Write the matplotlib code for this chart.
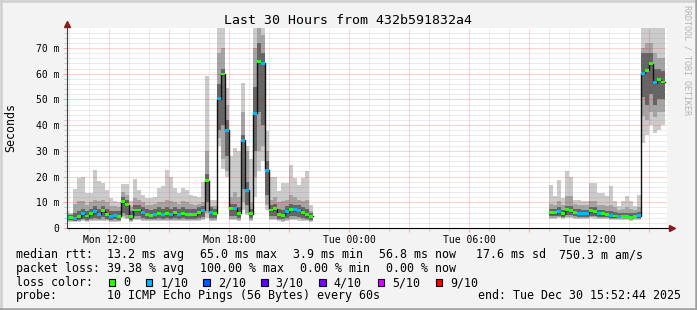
import numpy as np
import matplotlib.pyplot as plt
from matplotlib.patches import Rectangle
from matplotlib.lines import Line2D

plt.rcParams['font.family'] = 'DejaVu Sans Mono'

# rrd step is 12 minutes; times are hours since Mon 00:00
STEP = 0.2
seg_start = [9.8, 34.0]

# --- segment 1: Mon 09:48 .. Mon 22:12
med_a = [4.1, 4.0, 3.7, 4.4, 5.5, 4.7, 5.5, 6.3, 5.4, 6.7,
         5.4, 4.6, 4.8, 4.6, 10.2, 9.0, 4.4, 7.0, 7.0, 6.0,
         5.3, 5.0, 5.3, 5.8, 5.3, 5.6, 5.2, 6.0, 5.4, 5.6,
         5.4, 5.4, 5.2, 6.0, 6.9, 18.4, 6.1, 5.7, 50.3, 59.9,
         38.0, 7.5, 7.6, 5.7, 34.1, 14.6, 5.6, 44.7, 64.7, 64.0,
         22.4, 7.0, 7.5, 5.4, 4.9, 6.4, 7.3, 7.1, 6.9, 6.0,
         5.2, 4.5]
loss_a = [1, 0, 1, 0, 1, 0, 0, 1, 1, 0,
          0, 1, 1, 0, 0, 0, 0, 0, 0, 1,
          0, 0, 1, 0, 1, 0, 1, 0, 1, 0,
          0, 0, 0, 0, 1, 0, 1, 0, 1, 0,
          1, 0, 1, 0, 1, 1, 0, 1, 0, 1,
          1, 0, 0, 0, 0, 1, 0, 1, 1, 0,
          0, 0]
hi_a = [6.5, 6.0, 15.2, 19.5, 20.0, 13.6, 13.6, 22.7, 18.2, 17.5,
        14.9, 11.7, 10.5, 10.0, 17.1, 17.1, 10.4, 19.1, 14.9, 13.0,
        11.7, 11.7, 12.0, 15.6, 16.5, 22.7, 19.8, 15.5, 13.5, 15.5,
        14.9, 13.0, 12.3, 12.0, 18.0, 59.0, 11.0, 11.0, 77.8, 77.8,
        54.4, 28.0, 31.0, 30.0, 56.4, 32.0, 27.0, 77.8, 77.8, 77.8,
        37.6, 19.8, 19.8, 14.3, 17.5, 17.5, 24.6, 19.5, 16.9, 19.5,
        22.0, 9.1]
hi2_a = [5.5, 5.5, 9.5, 10.5, 10.5, 9.0, 10.0, 11.0, 10.5, 11.0,
         10.0, 8.5, 8.5, 8.0, 14.0, 13.0, 8.5, 11.5, 11.0, 10.0,
         9.0, 9.0, 9.5, 10.0, 10.0, 11.0, 10.5, 10.0, 9.5, 10.5,
         10.0, 9.5, 9.0, 9.5, 10.0, 30.0, 8.5, 8.5, 68.0, 70.0,
         48.0, 12.0, 14.0, 12.0, 45.0, 29.8, 10.0, 70.0, 77.8, 75.0,
         30.0, 11.0, 12.0, 10.0, 10.5, 11.0, 13.0, 12.0, 11.0, 10.5,
         11.0, 6.5]
hi3_a = [5.0, 5.0, 6.0, 6.5, 7.5, 6.5, 7.5, 8.5, 7.5, 8.5,
         7.5, 6.5, 6.5, 6.5, 12.0, 11.0, 6.5, 9.0, 9.0, 8.0,
         7.5, 7.0, 7.5, 8.0, 7.5, 8.0, 7.5, 8.0, 7.5, 8.0,
         7.5, 7.5, 7.5, 8.0, 8.5, 21.0, 8.0, 7.5, 56.0, 62.0,
         42.0, 9.5, 9.5, 8.0, 36.0, 18.0, 7.5, 55.0, 72.0, 68.0,
         26.0, 9.0, 9.5, 7.5, 7.0, 8.5, 9.5, 9.0, 9.0, 8.0,
         7.5, 6.0]
lo3_a = [3.2, 3.0, 2.9, 3.2, 3.6, 3.3, 3.6, 4.0, 3.6, 4.2,
         3.6, 3.3, 3.4, 3.3, 6.0, 5.0, 3.2, 4.5, 4.5, 4.0,
         3.6, 3.5, 3.6, 3.8, 3.6, 3.7, 3.5, 3.9, 3.6, 3.7,
         3.6, 3.6, 3.5, 3.9, 4.3, 10.0, 4.0, 3.8, 38.0, 40.0,
         28.0, 4.5, 4.5, 3.8, 15.0, 9.0, 3.7, 30.0, 45.0, 40.0,
         13.0, 4.5, 4.5, 3.6, 3.4, 4.0, 4.5, 4.5, 4.3, 3.9,
         3.5, 3.2]
lo2_a = [2.8, 2.7, 2.6, 2.8, 3.0, 2.8, 3.0, 3.2, 3.0, 3.3,
         3.0, 2.8, 2.9, 2.8, 4.5, 4.0, 2.8, 3.5, 3.5, 3.2,
         3.0, 3.0, 3.0, 3.2, 3.0, 3.1, 3.0, 3.2, 3.0, 3.1,
         3.0, 3.0, 3.0, 3.2, 3.4, 6.0, 3.2, 3.1, 35.0, 27.0,
         22.0, 3.6, 3.6, 3.1, 10.0, 6.0, 3.1, 20.0, 30.0, 32.0,
         9.0, 3.6, 3.6, 3.0, 2.9, 3.2, 3.6, 3.5, 3.4, 3.2,
         3.0, 2.8]
lo_a = [2.4, 2.3, 2.2, 2.4, 2.6, 2.4, 2.6, 2.8, 2.6, 2.9,
        2.6, 2.4, 2.5, 2.4, 3.8, 3.5, 2.4, 3.0, 3.0, 2.8,
        2.6, 2.6, 2.6, 2.8, 2.6, 2.7, 2.6, 2.8, 2.6, 2.7,
        2.6, 2.6, 2.6, 2.8, 3.0, 4.0, 2.8, 2.7, 32.0, 23.0,
        20.0, 3.1, 3.1, 2.7, 7.0, 5.0, 2.7, 12.0, 22.0, 26.0,
        7.0, 3.1, 3.1, 2.6, 2.5, 2.8, 3.1, 3.0, 2.9, 2.8,
        2.6, 2.4]

# --- segment 2: Tue 10:00 .. Tue 15:48
med_b = [5.9, 5.9, 6.3, 5.6, 7.1, 6.7, 6.1, 5.8, 5.7, 5.7,
         6.8, 6.3, 5.6, 5.6, 5.4, 4.8, 4.7, 4.5, 4.5, 4.5,
         4.2, 4.5, 4.8, 60.2, 61.3, 63.9, 56.5, 57.7, 56.8]
loss_b = [0, 0, 1, 0, 0, 0, 0, 1, 1, 1,
          0, 0, 1, 0, 0, 1, 0, 1, 0, 0,
          0, 0, 1, 1, 0, 0, 1, 0, 0]
hi_b = [16.8, 12.3, 18.8, 11.7, 22.0, 20.0, 11.0, 11.0, 10.4, 10.4,
        17.4, 17.4, 13.6, 13.6, 12.3, 16.5, 10.4, 8.5, 10.4, 12.3,
        10.4, 8.5, 13.0, 77.8, 77.8, 77.8, 77.8, 77.8, 77.8]
hi2_b = [9.5, 9.0, 10.5, 9.0, 12.5, 12.5, 9.5, 9.0, 9.0, 9.0,
         10.5, 10.5, 9.0, 9.0, 8.5, 9.0, 8.0, 7.0, 7.5, 8.0,
         7.5, 7.0, 8.0, 70.0, 72.0, 72.0, 68.0, 66.0, 66.0]
hi3_b = [7.5, 7.5, 8.0, 7.0, 8.5, 8.5, 7.5, 7.5, 7.0, 7.0,
         8.0, 8.0, 7.0, 7.0, 6.8, 6.5, 6.2, 6.0, 6.0, 6.0,
         5.8, 6.0, 6.2, 68.0, 68.0, 68.0, 62.0, 62.0, 61.0]
lo3_b = [4.5, 4.5, 4.8, 4.3, 5.0, 5.0, 4.6, 4.4, 4.3, 4.3,
         4.8, 4.6, 4.3, 4.3, 4.2, 3.9, 3.8, 3.7, 3.7, 3.7,
         3.6, 3.7, 3.8, 51.0, 48.0, 52.0, 48.0, 50.0, 50.0]
lo2_b = [4.0, 4.0, 4.2, 3.9, 4.3, 4.3, 4.0, 3.9, 3.9, 3.9,
         4.2, 4.1, 3.9, 3.9, 3.8, 3.6, 3.5, 3.4, 3.4, 3.4,
         3.3, 3.4, 3.5, 43.5, 42.0, 45.0, 43.0, 45.0, 45.0]
lo_b = [3.6, 3.6, 3.7, 3.5, 3.8, 3.8, 3.6, 3.5, 3.5, 3.5,
        3.7, 3.6, 3.5, 3.5, 3.4, 3.2, 3.1, 3.0, 3.0, 3.0,
        2.9, 3.0, 3.1, 33.0, 36.0, 40.0, 37.0, 38.0, 40.0]

loss_colors = {0: '#26ff00', 1: '#00b8ff'}
legend_loss = [('0', '#26ff00'), ('1/10', '#00b8ff'), ('2/10', '#0059ff'),
               ('3/10', '#5e00ff'), ('4/10', '#7e00ff'), ('5/10', '#dd00ff'),
               ('9/10', '#ff0000')]
xtick_pos = [12, 18, 24, 30, 36]
xtick_lab = ['Mon 12:00', 'Mon 18:00', 'Tue 00:00', 'Tue 06:00', 'Tue 12:00']
t_begin, t_end = 9.879, 39.879
y_top = 77.8

segments = [
    (seg_start[0], med_a, loss_a, lo_a, hi_a, lo2_a, hi2_a, lo3_a, hi3_a),
    (seg_start[1], med_b, loss_b, lo_b, hi_b, lo2_b, hi2_b, lo3_b, hi3_b),
]

W, H = 697, 310
fig = plt.figure(figsize=(W / 100, H / 100), dpi=100, facecolor='#f3f3f3')
ax = fig.add_axes([67 / W, 82 / H, 600 / W, 200 / H])
ax.set_facecolor('white')
for s in ax.spines.values():
    s.set_visible(False)

for start, med, loss, lo, hi, lo2, hi2, lo3, hi3 in segments:
    t = start + STEP * np.arange(len(med))
    med = np.array(med)
    for a, b, col in [(lo, hi, '#cbcbcb'), (lo2, hi2, '#a4a4a4'), (lo3, hi3, '#656565')]:
        a, b = np.array(a), np.array(b)
        ax.bar(t, b - a, bottom=a, width=STEP, align='edge', color=col,
               linewidth=0, antialiased=False, zorder=1)
    # black median staircase
    ax.step(np.append(t, t[-1] + STEP), np.append(med, med[-1]), where='post',
            color='#111111', lw=1.0, zorder=4)
    # loss coloured median dashes
    ax.bar(t, 1.1, bottom=med - 0.55, width=STEP, align='edge',
           color=[loss_colors[l] for l in loss], linewidth=0,
           antialiased=False, zorder=5)

# rrdtool style dotted grid, drawn over the smoke
for h in range(10, 40):
    major = h % 3 == 0
    ax.axvline(h, color='#ff0000' if major else '#808080',
               alpha=0.35 if major else 0.3, lw=0.72, ls=(0, (1, 1)), zorder=3)
for v in range(2, 78, 2):
    major = v % 10 == 0
    ax.axhline(v, color='#ff0000' if major else '#808080',
               alpha=0.35 if major else 0.3, lw=0.72, ls=(0, (1, 1)), zorder=3)

ax.set_xlim(t_begin, t_end)
ax.set_ylim(0, y_top)

ax.set_xticks(list(range(12, 40, 3)))
ax.set_xticklabels([xtick_lab[xtick_pos.index(h)] if h in xtick_pos else ''
                    for h in range(12, 40, 3)])
ax.set_xticks(list(range(10, 40)), minor=True)
ax.set_yticks(list(range(0, 71, 10)))
ax.set_yticklabels(['0'] + ['%d m' % v for v in range(10, 71, 10)])
ax.set_yticks(list(range(2, 78, 2)), minor=True)
ax.tick_params(which='major', length=3, width=0.72, color='#ffa0a0',
               labelsize=7, pad=2.6)
ax.tick_params(which='minor', length=2, width=0.72, color='#c8c8c8')
ax.tick_params(axis='x', which='major', pad=2.0)

# axis lines with arrows
ax.plot([0, 1.006], [0, 0], transform=ax.transAxes, color='black', lw=0.8,
        clip_on=False, zorder=6)
ax.plot([0, 0], [0, 1.015], transform=ax.transAxes, color='#404040', lw=0.8,
        clip_on=False, zorder=6)
ax.plot([1.0075], [0], marker='>', ms=4, color='#8b1a1a', mec='#8b1a1a',
        transform=ax.transAxes, clip_on=False, zorder=7)
ax.plot([0], [1.0215], marker='^', ms=4, color='#8b1a1a', mec='#8b1a1a',
        transform=ax.transAxes, clip_on=False, zorder=7)


def fx(px):
    return px / W


def fy(py):
    return 1 - py / H


fig.text(fx(348.5), fy(24), 'Last 30 Hours from 432b591832a4', ha='center',
         va='baseline', fontsize=9.5)
fig.text(fx(10.5), fy(128), 'Seconds', rotation=90, ha='center', va='center',
         fontsize=8.35)
fig.text(fx(687), fy(60), 'RRDTOOL / TOBI OETIKER', rotation=270, ha='center',
         va='center', fontsize=6, color='#b4b4b4')

FS = 8.35
line1 = [(16, 'median rtt:'), (107.3, '13.2 ms avg'), (200, '65.0 ms max'),
         (293.3, '3.9 ms min'), (379.3, '56.8 ms now'), (476, '17.6 ms sd'),
         (559, '750.3 m am/s')]
line2 = [(16, 'packet loss:'), (107.3, '39.38 % avg'), (200, '100.00 % max'),
         (300, '0.00 % min'), (386, '0.00 % now')]
line4 = [(16, 'probe:'), (107.3, '10 ICMP Echo Pings (56 Bytes) every 60s'),
         (478.3, 'end: Tue Dec 30 15:52:44 2025')]
for base, items in [(258.3, line1), (272.3, line2), (299.3, line4)]:
    for x, s in items:
        fig.text(fx(x), fy(base), s, ha='left', va='baseline', fontsize=FS)

fig.text(fx(16), fy(286), 'loss color:', ha='left', va='baseline', fontsize=FS)
box_x = [108.7, 145.7, 203.3, 261, 319.3, 377.7, 435.7]
for bx, (lab, col) in zip(box_x, legend_loss):
    fig.add_artist(Rectangle((fx(bx), fy(286)), 6.6 / W, 6.6 / H,
                             transform=fig.transFigure, facecolor=col,
                             edgecolor='black', lw=0.8))
    fig.text(fx(bx + 14.6), fy(286), lab, ha='left', va='baseline', fontsize=FS)

# 3d-ish frame around the image
for xs, ys, col in [([0, W], [0.8, 0.8], '#cfcfcf'), ([0.8, 0.8], [0, H], '#cfcfcf'),
                    ([0, W], [H - 1.2, H - 1.2], '#9e9e9e'),
                    ([W - 1.2, W - 1.2], [0, H], '#9e9e9e')]:
    fig.add_artist(Line2D([fx(x) for x in xs], [fy(y) for y in ys],
                          transform=fig.transFigure, color=col, lw=1.8))

fig.savefig('out.png', dpi=100, facecolor=fig.get_facecolor())
